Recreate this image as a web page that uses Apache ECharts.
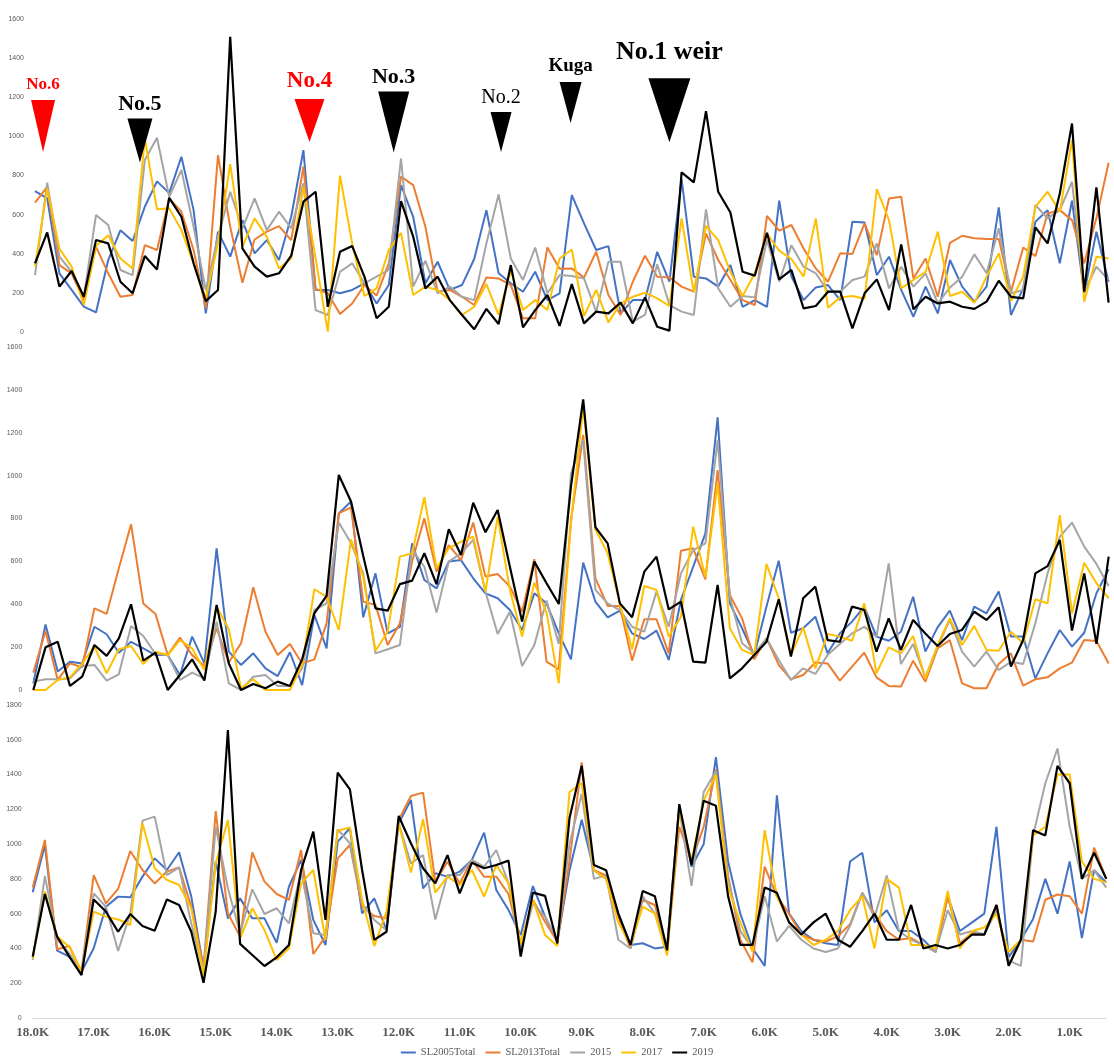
<!DOCTYPE html>
<html><head><meta charset="utf-8">
<script src="https://cdn.jsdelivr.net/npm/echarts@6/dist/echarts.min.js"></script>
<style>html,body{margin:0;padding:0;background:#fff}#c{width:1114px;height:1057px}</style>
</head><body><div id="c"></div><script>
const categories = ['18.0K','17.8K','17.6K','17.4K','17.2K','17.0K','16.8K','16.6K','16.4K','16.2K','16.0K','15.8K','15.6K','15.4K','15.2K','15.0K','14.8K','14.6K','14.4K','14.2K','14.0K','13.8K','13.6K','13.4K','13.2K','13.0K','12.8K','12.6K','12.4K','12.2K','12.0K','11.8K','11.6K','11.4K','11.2K','11.0K','10.8K','10.6K','10.4K','10.2K','10.0K','9.8K','9.6K','9.4K','9.2K','9.0K','8.8K','8.6K','8.4K','8.2K','8.0K','7.8K','7.6K','7.4K','7.2K','7.0K','6.8K','6.6K','6.4K','6.2K','6.0K','5.8K','5.6K','5.4K','5.2K','5.0K','4.8K','4.6K','4.4K','4.2K','4.0K','3.8K','3.6K','3.4K','3.2K','3.0K','2.8K','2.6K','2.4K','2.2K','2.0K','1.8K','1.6K','1.4K','1.2K','1.0K','0.8K','0.6K','0.4K'];
const seriesNames = ['SL2005Total','SL2013Total','2015','2017','2019'];
const yTicksTop = [0,1600,200];
const yTicksMid = [0,1600,200];
const yTicksBot = [0,1800,200];

// top panel
const top2005 = [720,683,300,215,130,100,368,520,465,640,770,710,896,623,95,513,385,572,402,470,368,589,930,215,215,198,215,249,146,240,751,589,249,359,215,240,373,623,300,249,206,308,163,198,
 700,555,419,439,95,163,163,410,257,780,283,274,232,342,129,163,129,671,283,163,228,240,163,564,560,291,385,215,78,232,95,368,232,155,232,637,87,223,564,623,351,671,198,513,257];
const top2013 = [661,742,342,300,163,436,300,180,189,444,419,683,615,419,121,904,538,252,473,513,541,470,845,220,198,92,146,240,186,351,794,751,538,206,215,180,138,279,274,240,70,70,432,323,
 325,278,410,189,87,257,390,283,279,232,206,504,368,266,163,138,593,518,547,427,325,257,402,399,555,393,683,691,274,376,180,456,492,479,475,475,206,432,388,606,623,572,351,581,865];
const top2015 = [291,763,385,308,180,598,547,317,291,879,993,691,828,538,215,487,717,530,683,521,615,530,760,112,87,308,351,249,283,317,887,232,364,198,232,180,163,453,703,376,266,432,198,291,
 286,274,104,359,359,53,87,346,138,104,87,627,223,129,184,177,470,257,444,334,300,206,206,266,283,453,223,334,232,300,146,228,283,397,300,530,198,215,649,581,623,768,206,334,266];
const top2017 = [334,734,427,334,138,440,495,376,325,989,628,632,521,351,172,453,858,436,581,487,325,376,742,376,2,799,453,184,223,419,507,189,232,215,163,87,129,245,87,313,112,163,112,376,
 422,82,215,49,146,180,201,172,133,581,201,543,470,308,184,300,501,416,373,283,581,124,177,184,170,731,572,223,266,308,513,184,206,150,283,402,160,283,640,717,615,981,155,385,376];
const top2019 = [351,509,232,312,180,470,453,257,198,388,320,686,589,351,158,215,1509,427,334,283,300,390,666,717,129,410,439,283,70,129,669,487,223,283,163,87,14,118,41,342,24,112,189,31,
 245,44,104,95,150,44,177,27,7,816,765,1129,717,611,308,288,507,269,317,121,133,206,206,19,198,269,112,448,116,180,146,155,129,118,155,262,180,172,535,453,708,1066,206,739,150];

// middle panel
const mid2005 = [30,306,86,132,124,295,260,174,225,194,163,163,70,249,124,661,179,117,171,101,65,176,23,350,194,824,879,339,544,264,295,684,513,474,599,606,521,451,428,373,280,451,404,264,
 143,594,412,339,370,264,238,277,140,420,575,731,1272,404,288,163,389,603,267,288,342,171,264,319,389,249,230,272,435,179,292,370,233,389,358,459,249,249,54,171,280,202,267,451,563];
const mid2013 = [81,275,47,124,106,381,355,568,773,404,355,163,244,163,112,288,128,218,479,272,163,215,124,143,311,824,852,412,397,210,311,599,801,552,676,606,781,529,541,482,365,610,132,96,
 793,1190,521,392,392,137,330,330,171,650,661,516,1026,443,334,143,241,117,50,70,128,124,44,109,174,59,19,16,137,39,194,233,31,8,8,121,171,20,50,59,101,128,233,229,124];
const mid2015 = [39,50,50,54,112,117,44,73,299,252,168,163,47,81,54,319,31,0,62,70,19,19,101,373,404,781,684,544,171,190,210,656,575,361,599,638,700,459,261,365,112,210,417,215,
 1011,1166,467,404,373,295,272,459,295,544,653,684,1166,435,218,171,241,140,47,101,75,163,215,264,295,249,591,121,215,59,202,327,179,109,179,93,132,121,311,544,715,781,669,588,485];
const mid2017 = [0,0,47,59,124,202,78,190,205,121,179,163,233,194,93,389,283,8,50,0,0,0,117,470,435,280,703,529,183,272,622,638,899,568,661,692,715,459,809,467,249,501,361,31,
 780,1322,750,638,404,190,485,467,249,342,762,526,964,288,187,163,588,428,163,292,101,261,249,230,404,78,199,171,252,54,210,334,210,299,187,183,272,218,423,404,816,358,594,498,428];
const mid2019 = [0,199,225,19,62,210,159,241,400,137,174,0,70,143,44,397,124,0,28,8,39,19,143,358,439,1003,879,625,381,370,494,510,638,493,750,630,874,736,840,575,319,599,498,401,
 950,1356,759,684,404,339,552,622,376,412,132,128,490,54,101,163,225,423,156,428,482,233,225,389,373,179,334,187,327,264,205,261,280,365,327,386,109,233,544,578,700,277,544,215,622];

// bottom panel
const bot2005 = [723,995,387,353,266,401,640,698,694,813,918,851,953,698,286,900,573,688,573,573,433,755,909,564,420,1014,1091,602,688,506,1120,1254,746,832,813,842,909,1066,736,621,477,759,583,439,
 850,1140,850,800,600,420,430,400,410,1220,870,1000,1500,900,600,400,300,1280,600,500,450,430,420,900,950,550,620,500,500,450,380,700,500,550,600,1100,350,450,570,800,600,900,460,850,780];
const bot2013 = [750,1024,395,414,266,822,659,742,960,851,774,842,866,640,286,1190,602,468,953,784,713,679,966,368,468,918,995,640,587,573,1139,1277,1296,784,899,774,909,813,813,713,429,679,554,439,
 900,1470,850,820,580,400,680,650,380,1100,900,1100,1430,820,450,320,870,700,600,480,450,440,470,540,720,600,500,450,460,420,380,700,430,490,480,650,300,450,440,680,710,700,600,980,800];
const bot2015 = [334,817,452,372,266,717,640,385,602,1135,1158,822,866,544,276,1100,746,487,740,598,631,544,842,487,477,1085,1005,659,564,506,1120,889,937,567,822,822,909,870,966,774,391,659,583,449,
 1000,1290,800,820,450,400,700,600,400,1200,760,1300,1420,800,500,400,700,440,530,450,400,380,400,530,720,580,820,500,450,420,380,620,480,500,480,620,330,300,1050,1350,1550,1100,800,850,750];
const bot2017 = [343,727,468,410,266,612,583,567,535,1120,861,794,765,631,247,889,1139,458,631,506,334,401,774,851,449,1077,1095,679,414,612,1120,836,1143,721,813,765,851,698,880,774,429,679,477,414,
 1300,1350,850,800,550,420,640,600,360,1200,900,1250,1400,750,550,380,1080,700,550,480,420,450,500,620,700,400,800,750,420,420,400,730,400,500,520,600,380,450,1050,1100,1400,1400,900,800,780];
const bot2019 = [353,713,468,353,247,682,612,496,598,529,502,682,650,496,203,612,1656,426,362,299,349,420,851,1072,564,1411,1315,851,449,496,1162,1005,861,774,937,717,893,861,880,905,353,721,702,429,
 1150,1450,880,850,600,420,730,700,390,1230,880,1250,1220,700,420,420,750,720,550,480,550,600,450,410,500,600,450,450,650,400,420,400,420,480,480,650,300,450,1080,1050,1450,1350,800,950,800];

// annotations (label, position along river as category index, value on top axis)
const annoLabels = ['No.6','No.5','No.4','No.3','No.2','Kuga','No.1 weir'];
const annoX = [0.66, 8.6, 22.5, 29.4, 38.2, 43.9, 52.0];
const annoY = [1053, 979, 1081, 1073, 1022, 1173, 1134];

// ---- styles ----
const colors = ['#4472C4','#ED7D31','#A5A5A5','#FFC000','#000000'];
const annoStyle = [
  {w:24,h:52,c:'#FF0000',fs:17,fw:'bold',d:7},
  {w:25,h:44,c:'#000000',fs:22,fw:'bold',d:3},
  {w:30,h:43,c:'#FF0000',fs:23,fw:'bold',d:6},
  {w:31,h:61,c:'#000000',fs:22,fw:'bold',d:3},
  {w:21,h:40,c:'#000000',fs:20,fw:'normal',d:4},
  {w:22,h:41,c:'#000000',fs:19,fw:'bold',d:6},
  {w:42,h:64,c:'#000000',fs:26,fw:'bold',d:13}
];
const panels = [
  {data:[top2005,top2013,top2015,top2017,top2019], ticks:yTicksTop},
  {data:[mid2005,mid2013,mid2015,mid2017,mid2019], ticks:yTicksMid},
  {data:[bot2005,bot2013,bot2015,bot2017,bot2019], ticks:yTicksBot}
];
const n = categories.length;
const grids = [
  {left:35, top:19, width:(n-1)*12.2, height:313},
  {left:33.3, top:347, width:(n-1)*12.22, height:343},
  {left:32.7, top:705, width:(n-1)*12.2, height:313}
];
const serif = '"Liberation Serif","Times New Roman",serif';

const xAxes = panels.map((p, i) => ({
  type:'category', gridIndex:i, data:categories, boundaryGap:false,
  axisLine:{show: i===2, lineStyle:{color:'#d9d9d9', width:1}},
  axisTick:{show:false},
  axisLabel:{show: i===2, interval:4, fontFamily:serif, fontWeight:'bold', fontSize:13, color:'#595959', margin:8},
  splitLine:{show:false}
}));
xAxes.push({type:'value', gridIndex:0, min:0, max:n-1, show:false});

const yAxes = panels.map((p, i) => ({
  type:'value', gridIndex:i, min:p.ticks[0], max:p.ticks[1], interval:p.ticks[2],
  axisLine:{show:false}, axisTick:{show:false}, splitLine:{show:false},
  axisLabel:{fontSize:7, color:'#595959', margin:11, fontFamily:'"Liberation Sans",Arial,sans-serif',
    formatter: v => String(v)}
}));

const series = [];
panels.forEach((p, pi) => {
  p.data.forEach((d, si) => {
    series.push({
      type:'line', name:seriesNames[si], xAxisIndex:pi, yAxisIndex:pi, data:d,
      symbol:'none', showSymbol:false, color:colors[si],
      lineStyle:{color:colors[si], width: si===4 ? 2.2 : 2},
      z: 2 + si, animation:false
    });
  });
});
series.push({
  type:'scatter', xAxisIndex:3, yAxisIndex:0, z:20, silent:true, animation:false,
  itemStyle:{opacity:1},
  emphasis:{disabled:true},
  data: annoLabels.map((lab, k) => ({
    name: lab,
    value: [annoX[k], annoY[k]],
    symbol: 'path://M0,0L2,0L1,2Z',
    symbolSize: [annoStyle[k].w, annoStyle[k].h],
    itemStyle: {color: annoStyle[k].c, opacity:1},
    label: {show:true, position:'top', distance:annoStyle[k].d, formatter: lab, opacity:1,
      fontFamily: serif, fontWeight: annoStyle[k].fw, fontSize: annoStyle[k].fs, color: annoStyle[k].c}
  }))
});

const chart = echarts.init(document.getElementById('c'), null, {renderer:'canvas'});
chart.setOption({
  backgroundColor:'#ffffff',
  animation:false,
  grid: grids,
  xAxis: xAxes,
  yAxis: yAxes,
  legend: {
    data: seriesNames, top: 1047, left:'center', padding:0, icon:'rect', itemWidth:15, itemHeight:2, itemGap:10,
    textStyle:{fontFamily:serif, fontSize:10.5, color:'#595959'}
  },
  series: series
});
</script></body></html>
